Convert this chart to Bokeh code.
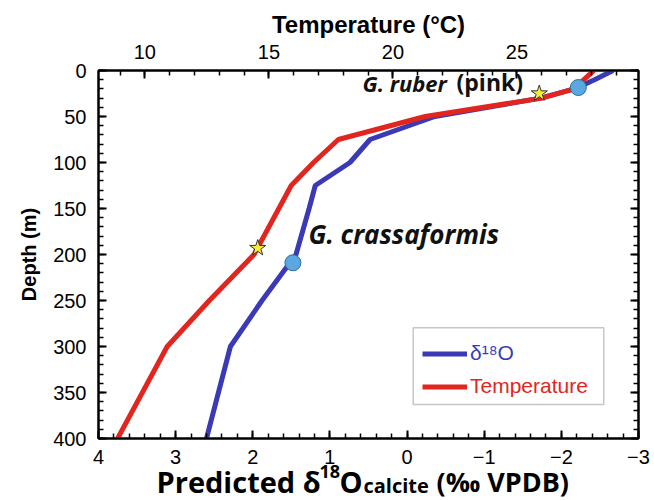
from bokeh.plotting import figure
from bokeh.layouts import column
from bokeh.models import (Range1d, LinearAxis, SingleIntervalTicker, Label,
                          Legend, LegendItem, BoxAnnotation, CustomJSTickFormatter)
from bokeh.embed import file_html
from bokeh.resources import INLINE

# ---- data ----
depth_m = [0, 10, 20, 30, 50, 75, 100, 125, 150, 200, 250, 300, 400]
temperature_c = [28.1, 27.7, 27.3, 26.0, 21.3, 17.8, 16.8, 15.9, 15.4, 14.4, 12.6, 10.9, 8.9]
d18o_pred = [-2.67, -2.43, -2.17, -1.73, -0.36, 0.48, 0.74, 1.19, 1.27, 1.44, 1.88, 2.29, 2.60]

species = ["G. ruber (pink)", "G. crassaformis"]
star_depth = [25, 193]
star_temp = [25.9, 14.55]
circle_depth = [18.5, 209]
circle_d18o = [-2.22, 1.48]

BLUE = "#3A3AB6"
RED = "#E2261F"

p = figure(width=652, height=500, x_range=Range1d(4, -3), y_range=Range1d(400, 0),
           output_backend="svg", toolbar_location=None,
           x_axis_location=None, y_axis_location=None,
           min_border_left=98, min_border_right=14, min_border_top=70, min_border_bottom=62,
           background_fill_color="white", border_fill_color="white")
p.extra_x_ranges = {"temp": Range1d(8.13, 29.9)}
p.grid.visible = False
p.outline_line_color = "black"
p.outline_line_width = 2


def style(ax):
    ax.axis_line_width = 2
    ax.axis_line_color = "black"
    ax.major_tick_in = 8
    ax.major_tick_out = 0
    ax.minor_tick_in = 5
    ax.minor_tick_out = 0
    ax.major_tick_line_width = 2
    ax.minor_tick_line_width = 1.5
    ax.major_tick_line_color = "black"
    ax.minor_tick_line_color = "black"
    ax.major_label_text_font = "Liberation Sans"
    ax.major_label_text_font_size = "20px"
    ax.major_label_text_color = "black"
    ax.axis_label_text_font = "Liberation Sans"
    ax.axis_label_text_font_style = "bold"
    ax.axis_label_text_color = "black"


bottom = LinearAxis(ticker=SingleIntervalTicker(interval=1, num_minor_ticks=5))
style(bottom)
bottom.major_label_standoff = 11
p.add_layout(bottom, "below")

top = LinearAxis(x_range_name="temp", ticker=SingleIntervalTicker(interval=5, num_minor_ticks=5),
                 axis_label="Temperature (°C)")
style(top)
top.major_label_standoff = 12
top.axis_label_standoff = 4
top.axis_label_text_font_size = "24px"
p.add_layout(top, "above")

left = LinearAxis(ticker=SingleIntervalTicker(interval=50, num_minor_ticks=5), axis_label="Depth (m)")
style(left)
left.major_label_standoff = 12
left.axis_label_standoff = 10
left.axis_label_text_font_size = "20px"
p.add_layout(left, "left")

right = LinearAxis(ticker=SingleIntervalTicker(interval=50, num_minor_ticks=5),
                   formatter=CustomJSTickFormatter(code="return ''"))
style(right)
right.major_label_standoff = 0
p.add_layout(right, "right")

# ---- profiles ----
blue = p.line(d18o_pred, depth_m, line_color=BLUE, line_width=5)
red = p.line(temperature_c, depth_m, x_range_name="temp", line_color=RED, line_width=5)

p.scatter(circle_d18o, circle_depth, marker="circle", size=16,
          fill_color="#5AA8DF", line_color="#2E6E9E", line_width=1)
p.scatter(star_temp, star_depth, marker="star", size=17, x_range_name="temp",
          fill_color="#F8EC3B", line_color="#333333", line_width=1)

# ---- species labels ----
p.add_layout(Label(x=0.578, y=30.4, text="G. ruber", text_font="Open Sans",
                   text_font_style="bold italic", text_font_size="22px", text_color="#111111"))
p.add_layout(Label(x=-0.641, y=30.4, text="(pink)", text_font="Open Sans",
                   text_font_style="bold", text_font_size="23px", text_color="#111111"))
p.add_layout(Label(x=1.278, y=197.5, text=species[1], text_font="Open Sans",
                   text_font_style="bold italic", text_font_size="26px", text_color="#111111"))

# ---- legend ----
p.add_layout(BoxAnnotation(left=-0.080, right=-2.55, top=279.7, bottom=363.0,
                           fill_alpha=0, line_color="#444444", line_width=1.5))


def make_legend(label, rend, color, loc):
    lg = Legend(items=[LegendItem(label=label, renderers=[rend])], location=loc,
                border_line_color=None, background_fill_alpha=0, padding=0, margin=0,
                spacing=0, glyph_width=45, glyph_height=23, label_height=23, label_standoff=3,
                label_text_font="Liberation Sans", label_text_font_size="21px",
                label_text_color=color)
    p.add_layout(lg)


make_legend("δ¹⁸O", blue, BLUE, (324, 73))
make_legend("Temperature", red, RED, (324, 40))

# ---- bottom axis title (with super/subscript), drawn in a transparent strip
#      laid over the bottom margin of the plot; strip data units = page pixels ----
STRIP_H = 70
STRIP_TOP = 440  # where the strip actually lands on the page
strip = figure(width=652, height=STRIP_H, x_range=Range1d(98, 638),
               y_range=Range1d(STRIP_TOP + STRIP_H, STRIP_TOP),
               output_backend="svg", toolbar_location=None,
               x_axis_location=None, y_axis_location=None,
               min_border_left=98, min_border_right=14,
               min_border_top=0, min_border_bottom=0,
               background_fill_alpha=0, border_fill_alpha=0,
               margin=(-STRIP_H, 0, 0, 0))
strip.grid.visible = False
strip.outline_line_color = None


def piece(x, y, text, size):
    strip.add_layout(Label(x=x, y=y, text=text, text_font="Open Sans", text_font_style="bold",
                           text_font_size=size, text_color="black", text_baseline="alphabetic"))


piece(156, 491, "Predicted δ", "29px")
piece(319, 481, "18", "18px")
piece(339, 491, "O", "29px")
piece(363, 495, "calcite", "20px")
piece(436, 491, "(‰ VPDB)", "27px")

layout = column(p, strip, spacing=0)
open("out.html", "w").write(file_html(layout, INLINE))
